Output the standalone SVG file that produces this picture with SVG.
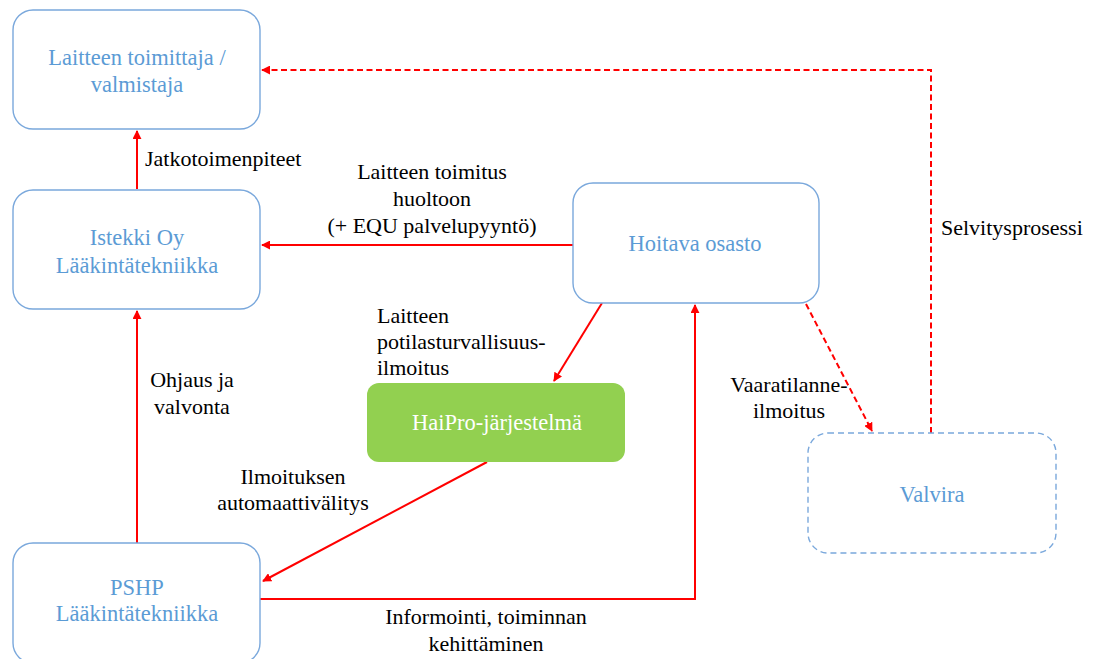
<svg xmlns="http://www.w3.org/2000/svg" width="1093" height="659" viewBox="0 0 1093 659">
<style>
.box{fill:#fff;stroke:#7aa8dc;stroke-width:1.4}
.dash{stroke-dasharray:6,4}
.nt{font-family:"Liberation Serif","Times New Roman",serif;font-size:22.5px;fill:#5b9bd5;text-anchor:middle}
.lb{font-family:"Liberation Serif","Times New Roman",serif;font-size:22px;fill:#000}
.c{text-anchor:middle}
.ln{fill:none;stroke:#ff0000;stroke-width:2}
.ld{stroke-dasharray:6,3.5}
</style>
<defs>
<marker id="ah" viewBox="0 0 10 10" refX="9" refY="5" markerWidth="4.5" markerHeight="4.5" orient="auto" markerUnits="strokeWidth">
<path d="M0,0 L10,5 L0,10 z" fill="#ff0000"/>
</marker>
</defs>
<g id="connectors">
<line class="ln" x1="137" y1="189" x2="137" y2="131" marker-end="url(#ah)"/>
<line class="ln" x1="573" y1="245" x2="262" y2="245" marker-end="url(#ah)"/>
<line class="ln" x1="602" y1="303" x2="554" y2="381" marker-end="url(#ah)"/>
<line class="ln ld" x1="806" y1="304" x2="872" y2="431" marker-end="url(#ah)"/>
<polyline class="ln ld" points="931,433 931,70 262,70" marker-end="url(#ah)"/>
<line class="ln" x1="487" y1="462" x2="263" y2="581" marker-end="url(#ah)"/>
<polyline class="ln" points="260,599 695,599 695,305" marker-end="url(#ah)"/>
<line class="ln" x1="137" y1="543" x2="137" y2="311" marker-end="url(#ah)"/>
<text class="lb" x="145" y="166">Jatkotoimenpiteet</text>
<text class="lb c" x="432" y="179">Laitteen  toimitus</text>
<text class="lb c" x="432" y="206">huoltoon</text>
<text class="lb c" x="432" y="233">(+ EQU palvelupyyntö)</text>
<text class="lb" x="377" y="323">Laitteen</text>
<text class="lb" x="377" y="349">potilasturvallisuus-</text>
<text class="lb" x="377" y="375">ilmoitus</text>
<text class="lb c" x="789" y="392">Vaaratilanne-</text>
<text class="lb c" x="789" y="418">ilmoitus</text>
<text class="lb" x="941" y="235">Selvitysprosessi</text>
<text class="lb c" x="192" y="387">Ohjaus ja</text>
<text class="lb c" x="192" y="414">valvonta</text>
<text class="lb c" x="293" y="484">Ilmoituksen</text>
<text class="lb c" x="293" y="510">automaattivälitys</text>
<text class="lb c" x="486" y="624">Informointi,  toiminnan</text>
<text class="lb c" x="486" y="651">kehittäminen</text>
</g>
<g id="n-toimittaja">
<rect class="box" x="13" y="10" width="247" height="119" rx="20"/>
<text class="nt" x="137" y="65">Laitteen  toimittaja  /</text>
<text class="nt" x="137" y="92">valmistaja</text>
</g>
<g id="n-istekki">
<rect class="box" x="13" y="190" width="247" height="119" rx="20"/>
<text class="nt" x="137" y="245">Istekki  Oy</text>
<text class="nt" x="137" y="273">Lääkintätekniikka</text>
</g>
<g id="n-hoitava">
<rect class="box" x="573" y="183" width="246" height="120" rx="20"/>
<text class="nt" x="695" y="251">Hoitava  osasto</text>
</g>
<g id="n-haipro">
<rect x="367" y="383" width="258" height="79" rx="12" fill="#92d050"/>
<text class="nt" x="497" y="430" style="fill:#fff">HaiPro-järjestelmä</text>
</g>
<g id="n-valvira">
<rect class="box dash" x="808" y="433" width="248" height="120" rx="20"/>
<text class="nt" x="932" y="502">Valvira</text>
</g>
<g id="n-pshp">
<rect class="box" x="13" y="543" width="247" height="120" rx="20"/>
<text class="nt" x="137" y="595">PSHP</text>
<text class="nt" x="137" y="621">Lääkintätekniikka</text>
</g>
</svg>
